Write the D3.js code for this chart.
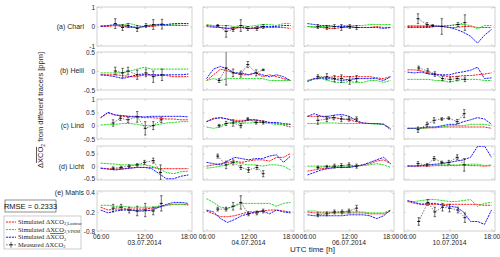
<!DOCTYPE html>
<html>
<head>
<meta charset="utf-8">
<script src="https://cdn.jsdelivr.net/npm/d3@7"></script>
<style>
body{margin:0;background:#fff;}
svg{display:block;font-family:"Liberation Sans",Arial,sans-serif;}
</style>
</head>
<body>
<div id="chart"></div>
<script>

// --- data ---
var rowNames = ["(a) Charl", "(b) Heili", "(c) Lind", "(d) Licht", "(e) Mahls"];
var dates = ["03.07.2014", "04.07.2014", "06.07.2014", "10.07.2014"];
var simHours = [6, 7, 8, 9, 10, 11, 12, 13, 14, 15, 16, 17, 18];
var xTicks = [6, 12, 18];
var xTickLabels = ["06:00", "12:00", "18:00"];
var yDomains = [[-1, 1], [-0.5, 0.5], [-0.5, 1], [-0.55, 0.8], [0, 0.42]];
var yTicks = [[-1, 0, 1], [-0.5, 0, 0.5], [-0.5, 0, 0.5, 1], [-0.5, 0, 0.5], [0, 0.2, 0.4]];
var yTickLabels = [["-1", "0", "1"], ["-0.5", "0", "0.5"], ["-0.5", "0", "0.5", "1"], ["-0.5", "0", "0.5"], ["-0.8", "0.2", "0.4"]];
var rowLabelValue = [0, 0, 0, 0, 0.4];
var rmseText = "RMSE = 0.2333";

// simulated Lasttrac (red), [row][column], one value per simHours
var simLasttrac = [
	[[0,0,0.05,0,-0.05,-0.05,0,0,0.05,0.05,0.05,0.05,0.05],
	 [0,-0.05,-0.05,-0.1,-0.1,-0.05,-0.1,-0.1,-0.05,-0.05,-0.05,-0.05,-0.1],
	 [0,-0.05,-0.05,-0.1,-0.1,-0.05,-0.05,-0.05,-0.05,-0.05,0,-0.05,-0.05],
	 [0,0,0,0,0,0,-0.05,-0.05,0,0,-0.05,-0.05,-0.05]],
	[[-0.1,-0.1,-0.1,-0.12,-0.15,-0.15,-0.1,-0.1,-0.12,-0.12,-0.15,-0.15,-0.15],
	 [-0.25,-0.1,0.05,0,-0.05,-0.1,-0.1,-0.05,-0.15,-0.1,-0.15,-0.2,-0.25],
	 [-0.25,-0.2,-0.18,-0.17,-0.15,-0.15,-0.15,-0.15,-0.15,-0.15,-0.18,-0.2,-0.15],
	 [0.03,0.03,0,-0.05,-0.08,-0.12,-0.15,-0.15,-0.12,-0.12,-0.1,-0.08,-0.05]],
	[[0.3,0.48,0.4,0.35,0.33,0.33,0.3,0.3,0.28,0.25,0.25,0.22,0.22],
	 [0.15,0.28,0.3,0.25,0.2,0.2,0.2,0.22,0.18,0.12,0.08,0.02,-0.05],
	 [0.35,0.35,0.35,0.3,0.3,0.25,0.22,0.15,0.1,0.08,0.08,0.05,-0.1],
	 [-0.1,-0.1,-0.1,-0.08,-0.08,-0.05,-0.05,-0.05,-0.05,-0.05,-0.05,-0.05,-0.1]],
	[[-0.08,-0.1,-0.12,-0.1,-0.08,-0.05,-0.05,-0.05,-0.1,-0.1,-0.1,-0.1,-0.1],
	 [0,0.05,0.1,0.15,0.2,0.15,0.2,0.25,0.25,0.2,0.35,0.35,0.5],
	 [-0.2,-0.15,-0.1,-0.08,-0.05,-0.05,-0.05,0,0.05,0.1,0.2,0.25,0.1],
	 [0,0,0,0,0.02,0.02,0.02,0.02,0.05,0.02,0.02,0,0.02]],
	[[0.25,0.22,0.23,0.23,0.23,0.23,0.23,0.24,0.25,0.27,0.28,0.28,0.28],
	 [0.21,0.18,0.15,0.15,0.16,0.18,0.2,0.2,0.21,0.22,0.22,0.21,0.2],
	 [0.2,0.19,0.19,0.19,0.19,0.19,0.19,0.19,0.19,0.18,0.18,0.18,0.21],
	 [0.31,0.29,0.28,0.28,0.28,0.28,0.28,0.28,0.28,0.28,0.28,0.27,0.27]]
];

// simulated VPRM (green)
var simVprm = [
	[[0.05,0.05,0.05,0.1,0.15,0.05,0,0.05,0.1,0.1,0.1,0.15,0.15],
	 [0.1,0.05,0.05,0.05,0,0.05,0,0.05,0.1,0.1,0.05,0.15,0.15],
	 [0,0,0,0,0,0.05,0.05,0.05,0.05,0.1,0.1,0.1,0.1],
	 [0.05,0.05,0.05,0.05,0.05,0.05,0.05,0.1,0.1,0.05,-0.12,0.05,0.05]],
	[[-0.05,-0.05,-0.05,-0.05,0,0.05,0.1,0.05,0.05,0.05,0.05,0.05,0.05],
	 [-0.25,-0.2,-0.25,-0.2,-0.2,-0.2,-0.2,-0.2,-0.2,-0.25,-0.25,-0.25,-0.25],
	 [-0.25,-0.22,-0.2,-0.25,-0.3,-0.3,-0.28,-0.3,-0.3,-0.25,-0.25,-0.3,-0.25],
	 [-0.22,-0.22,-0.22,-0.22,-0.25,-0.25,-0.3,-0.25,-0.22,-0.22,-0.22,-0.25,-0.25]],
	[[0.02,0.05,0.05,0.08,0.08,0.05,0,0,0.05,0.1,0.12,0.15,0.15],
	 [-0.05,-0.1,-0.05,0.1,0.12,0.1,0.1,0.12,0.12,0.08,0.05,0.05,0.05],
	 [0.08,0.08,0.1,0.1,0.1,0.08,0.08,0.08,0.08,0.08,0.05,0.05,-0.1],
	 [-0.1,-0.1,-0.1,-0.08,-0.05,-0.05,0,0,0,0.05,0.05,0.05,0]],
	[[0.12,0.1,0.08,0.05,0.05,0.05,0.05,0,-0.1,-0.25,-0.3,-0.22,-0.2],
	 [-0.08,-0.05,0,0.05,0.15,0.1,0.05,0.05,0,0.05,0.05,0,-0.15],
	 [0,0,0,0,0,0,0,0,0.02,0.05,0.1,0.05,-0.05],
	 [0.02,0.02,0.02,0.05,0.05,0.05,0.05,0.05,0.05,0.08,0.08,0.02,0.05]],
	[[0.27,0.27,0.26,0.26,0.25,0.25,0.25,0.25,0.26,0.27,0.28,0.28,0.27],
	 [0.34,0.3,0.25,0.24,0.26,0.29,0.29,0.29,0.29,0.29,0.26,0.29,0.3],
	 [0.21,0.21,0.2,0.2,0.2,0.2,0.2,0.2,0.2,0.19,0.19,0.19,0.22],
	 [0.31,0.31,0.32,0.33,0.33,0.32,0.31,0.31,0.32,0.33,0.26,0.29,0.3]]
];

// simulated total (blue)
var simTotal = [
	[[0,0.05,0.1,0.05,0,-0.05,0,0.05,0.1,0.1,0.15,0.15,0.15],
	 [0.05,0,-0.05,-0.1,-0.05,-0.05,-0.1,-0.05,0,0,0,0.05,0.05],
	 [0.15,0.1,0.05,0.05,0,0,0,-0.05,-0.05,-0.05,-0.05,-0.1,-0.05],
	 [-0.05,-0.05,-0.05,-0.05,0,0,-0.05,-0.15,-0.3,-0.5,-0.85,-0.45,-0.15]],
	[[-0.1,-0.12,-0.15,-0.2,-0.15,-0.1,-0.1,-0.1,-0.1,-0.1,-0.1,-0.1,-0.08],
	 [-0.2,0.05,0.12,0.05,-0.05,-0.05,-0.1,-0.05,-0.1,-0.15,-0.1,-0.15,-0.25],
	 [-0.28,-0.2,-0.18,-0.2,-0.22,-0.25,-0.22,-0.2,-0.2,-0.2,-0.2,-0.25,-0.15],
	 [-0.03,-0.05,-0.03,-0.08,-0.1,-0.1,-0.1,-0.05,-0.02,0.02,0.1,-0.2,-0.18]],
	[[0.3,0.5,0.4,0.38,0.35,0.35,0.33,0.35,0.35,0.35,0.35,0.35,0.33],
	 [0.15,0.25,0.3,0.25,0.15,0.15,0.22,0.22,0.15,0.12,0.12,0.08,0.05],
	 [0.35,0.45,0.35,0.35,0.4,0.42,0.35,0.2,0.1,0.08,0.08,0.05,-0.15],
	 [-0.1,-0.1,-0.08,-0.05,-0.05,0,0.05,0.05,0.15,0.22,0.3,0.25,0.05]],
	[[-0.08,-0.12,-0.15,-0.12,-0.08,-0.05,-0.05,-0.1,-0.3,-0.5,-0.5,-0.4,-0.35],
	 [0.15,0.1,0.05,0.2,0.35,0.3,0.25,0.3,0.3,0.4,0.45,0.15,0.4],
	 [-0.35,-0.25,-0.15,-0.1,-0.05,-0.05,-0.05,0,0.05,0.15,0.25,0.35,0.1],
	 [0,0,0.02,0.05,0.08,0.1,0.15,0.2,0.25,0.35,0.78,0.8,0.35]],
	[[0.22,0.19,0.21,0.22,0.22,0.21,0.21,0.22,0.25,0.28,0.3,0.3,0.29],
	 [0.22,0.2,0.13,0.09,0.12,0.16,0.18,0.2,0.21,0.18,0.22,0.2,0.19],
	 [0.17,0.16,0.16,0.16,0.16,0.16,0.17,0.17,0.17,0.16,0.13,0.16,0.22],
	 [0.32,0.3,0.28,0.29,0.29,0.27,0.26,0.25,0.2,0.1,0.1,0.07,0.22]]
];

// measured: times, values, error half-widths
var measTime = [
	[[8,9,9.75,11,12.2,13.2,14.4],[7.6,8.8,9.8,10.9,11.9,13.2,14.1],[7.5,8.8,9.9,10.9,12.1,13.1],[7.5,8.8,9.6,10.9,13.2,14.2]],
	[[8,9,9.75,11,12.2,13.2,14.4],[7.8,8.8,9.8,10.9,11.9,13.1,14.1],[7.5,8.8,9.9,10.9,12.1,13.1],[7.6,8.9,9.9,11,12.1,13.1,14.2]],
	[[7.7,8.7,9.75,11,12.1,13.2,14.3],[7.8,8.8,9.8,10.9,11.9,13.1,14.1],[7.5,8.8,9.8,10.9,12,13.1],[7.5,8.8,9.8,10.9,11.9,13.1,14.1]],
	[[7.7,8.8,9.9,11,12,13.2,14.2],[7.6,8.8,9.8,10.9,12,13.2,14.1],[7.5,8.8,9.9,10.9,12,13.1],[7.5,8.8,9.8,10.9,11.9,13.1,14.1]],
	[[7.7,8.8,9.9,11,12.1,13.2,14.3],[7.6,8.8,9.8,10.9,12,13.2,14.1],[7.5,8.8,9.9,11,12,13.1],[7.6,8.9,9.9,11,12,13.2,14.2]]
];
var measValue = [
	[[0.15,-0.05,0.05,-0.1,0.05,0.1,0.12],[0.05,-0.25,-0.15,0.05,-0.1,-0.1,0],[0,-0.05,0,-0.05,0,-0.05],[0.4,0.1,0.05,0,0.1,0.2]],
	[[0,-0.05,0,-0.1,-0.05,-0.15,-0.1],[-0.25,0.08,-0.05,-0.08,0.17,-0.05,0.03],[-0.15,-0.15,-0.2,-0.2,-0.25,-0.2],[0.08,0,-0.08,-0.2,-0.22,-0.2,-0.22]],
	[[0.1,0.28,0.22,0.33,-0.1,0,0.22],[0,0.08,0.1,0,0.25,0.12,0.12],[0.2,0.25,0.3,0.25,0.25,0.25],[-0.15,0.05,0.2,0.25,0.28,0.15,0.45]],
	[[-0.08,-0.05,0,0.05,0.15,0.22,-0.25],[0.4,0.05,0.15,-0.05,-0.15,-0.05,-0.3],[-0.05,-0.02,0,0.02,0.05,0],[0.1,0.05,0.3,0.15,0.15,0.35,0.05]],
	[[0.24,0.25,0.22,0.21,0.22,0.21,0.29],[0.23,0.23,0.26,0.3,0.18,0.19,0.21],[0.17,0.18,0.2,0.2,0.21,0.24],[0.1,0.3,0.2,0.25,0.24,0.22,0.14]]
];
var measErr = [
	[[0.25,0.15,0.1,0.15,0.1,0.25,0.25],[0.05,0.3,0.1,0.3,0.1,0.1,0.1],[0.1,0.1,0.1,0.15,0.1,0.1],[0.25,0.1,0.05,0.4,0.1,0.4]],
	[[0.1,0.12,0.1,0.12,0.1,0.15,0.15],[0.05,0.45,0.1,0.08,0.08,0.08,0.02],[0.05,0.08,0.08,0.1,0.1,0.08],[0.05,0.06,0.06,0.06,0.06,0.06,0.06]],
	[[0.12,0.08,0.1,0.2,0.25,0.15,0.1],[0.05,0.08,0.12,0.08,0.05,0.06,0.06],[0.15,0.1,0.08,0.1,0.08,0.08],[0.1,0.08,0.1,0.05,0.05,0.08,0.15]],
	[[0.05,0.05,0.05,0.05,0.08,0.1,0.3],[0.08,0.15,0.1,0.08,0.1,0.08,0.12],[0.05,0.05,0.08,0.08,0.08,0.08],[0.08,0.05,0.08,0.05,0.08,0.1,0.25]],
	[[0.04,0.03,0.03,0.05,0.07,0.04,0.08],[0.02,0.02,0.04,0.07,0.02,0.02,0.02],[0.02,0.02,0.02,0.02,0.02,0.03],[0.04,0.03,0.05,0.04,0.04,0.03,0.05]]
];

// --- layout ---
var colLeft = [97, 203, 304, 404];
var colRight = [192, 294, 394, 495];
var rowTop = [7, 52, 99, 146, 191];
var rowBottom = [46, 90, 139, 180, 231];
var xDomain = [5.5, 18.5];

var simColors = {red: "#ff1a1a", green: "#1fdc1f", blue: "#1a1aff"};
var tickColor = "#262626";

var svg = d3.select("#chart")
	.append("svg")
	.attr("width", 500)
	.attr("height", 257);

var defs = svg.append("defs");

function drawPanel(r, c){

	var x = d3.scaleLinear().domain(xDomain).range([colLeft[c], colRight[c]]);
	var y = d3.scaleLinear().domain(yDomains[r]).range([rowBottom[r], rowTop[r]]);

	var g = svg.append("g");

	var clipId = "clip" + r + "_" + c;
	defs.append("clipPath").attr("id", clipId)
		.append("rect")
			.attr("x", colLeft[c])
			.attr("y", rowTop[r])
			.attr("width", colRight[c] - colLeft[c])
			.attr("height", rowBottom[r] - rowTop[r]);

	// axes with small inward ticks, MATLAB style
	var bottom = d3.axisBottom(x).tickValues(xTicks).tickSize(-2).tickPadding(3)
		.tickFormat(function(d, i){ return r == 4 ? xTickLabels[i] : ""; });
	var top = d3.axisTop(x).tickValues(xTicks).tickSize(-2).tickFormat("");
	var left = d3.axisLeft(y).tickValues(yTicks[r]).tickSize(-2).tickPadding(2)
		.tickFormat(function(d, i){ return c == 0 ? yTickLabels[r][i] : ""; });
	var right = d3.axisRight(y).tickValues(yTicks[r]).tickSize(-2).tickFormat("");

	[[bottom, "translate(0," + rowBottom[r] + ")"],
	 [top, "translate(0," + rowTop[r] + ")"],
	 [left, "translate(" + colLeft[c] + ",0)"],
	 [right, "translate(" + colRight[c] + ",0)"]].forEach(function(a){
		var ax = g.append("g").attr("transform", a[1]).call(a[0]);
		ax.select(".domain").remove();
		ax.selectAll(".tick line").attr("stroke", "#bdbdbd").attr("stroke-width", 0.6);
		ax.selectAll(".tick text").attr("fill", tickColor).attr("font-size", 6.5)
			.attr("font-family", "Liberation Sans, Arial, sans-serif");
	});

	g.append("rect")
		.attr("x", colLeft[c])
		.attr("y", rowTop[r])
		.attr("width", colRight[c] - colLeft[c])
		.attr("height", rowBottom[r] - rowTop[r])
		.attr("fill", "none")
		.attr("stroke", "#c6c6c6")
		.attr("stroke-width", 0.8);

	var plot = g.append("g").attr("clip-path", "url(#" + clipId + ")");

	var line = d3.line()
		.x(function(d){ return x(d[0]); })
		.y(function(d){ return y(d[1]); });

	[[simLasttrac, simColors.red], [simVprm, simColors.green], [simTotal, simColors.blue]].forEach(function(s){
		plot.append("path")
			.datum(d3.zip(simHours, s[0][r][c]))
			.attr("d", line)
			.attr("fill", "none")
			.attr("stroke", s[1])
			.attr("stroke-width", 1)
			.attr("stroke-dasharray", "2.2,0.8");
	});

	// measured values with error bars
	var meas = d3.zip(measTime[r][c], measValue[r][c], measErr[r][c]);

	plot.append("path")
		.datum(meas)
		.attr("d", line)
		.attr("fill", "none")
		.attr("stroke", "#333")
		.attr("stroke-width", 0.6)
		.attr("stroke-dasharray", "1.6,1.2");

	var pts = plot.selectAll(".meas")
		.data(meas)
		.enter()
		.append("g")
			.attr("class", "meas");

	pts.append("line")
		.attr("x1", function(d){ return x(d[0]); })
		.attr("x2", function(d){ return x(d[0]); })
		.attr("y1", function(d){ return y(d[1] - d[2]); })
		.attr("y2", function(d){ return y(d[1] + d[2]); })
		.attr("stroke", "#111")
		.attr("stroke-width", 0.6);

	[-1, 1].forEach(function(sg){
		pts.append("line")
			.attr("x1", function(d){ return x(d[0]) - 1.2; })
			.attr("x2", function(d){ return x(d[0]) + 1.2; })
			.attr("y1", function(d){ return y(d[1] + sg * d[2]); })
			.attr("y2", function(d){ return y(d[1] + sg * d[2]); })
			.attr("stroke", "#111")
			.attr("stroke-width", 0.6);
	});

	pts.append("line")
		.attr("x1", function(d){ return x(d[0]) - 1.5; })
		.attr("x2", function(d){ return x(d[0]) + 1.5; })
		.attr("y1", function(d){ return y(d[1]); })
		.attr("y2", function(d){ return y(d[1]); })
		.attr("stroke", "#000")
		.attr("stroke-width", 0.9);

	// row label and date
	if(c == 0){
		svg.append("text")
			.attr("x", 84)
			.attr("y", y(rowLabelValue[r]))
			.attr("dy", "0.35em")
			.attr("text-anchor", "end")
			.attr("font-size", 7)
			.attr("fill", tickColor)
			.text(rowNames[r]);
	}
	if(r == 4){
		svg.append("text")
			.attr("x", x(12))
			.attr("y", 245)
			.attr("text-anchor", "middle")
			.attr("font-size", 6.8)
			.attr("fill", tickColor)
			.text(dates[c]);
	}
}

rowNames.forEach(function(n, r){
	dates.forEach(function(d, c){
		drawPanel(r, c);
	});
});

// x axis title
svg.append("text")
	.attr("x", 290)
	.attr("y", 252)
	.attr("font-size", 8)
	.attr("fill", tickColor)
	.text("UTC time [h]");

// y axis title
var ylab = svg.append("text")
	.attr("transform", "translate(43,110) rotate(-90)")
	.attr("text-anchor", "middle")
	.attr("font-size", 7.5)
	.attr("fill", tickColor);
ylab.append("tspan").text("Δ");
ylab.append("tspan").attr("text-decoration", "overline").text("XCO");
ylab.append("tspan").attr("font-size", 5).attr("dy", 1.5).text("2");
ylab.append("tspan").attr("dy", -1.5).text(" from different tracers [ppm]");

// RMSE box
svg.append("rect")
	.attr("x", 5).attr("y", 200).attr("width", 51).attr("height", 12)
	.attr("fill", "#fff").attr("stroke", "#444").attr("stroke-width", 0.6);
svg.append("text")
	.attr("x", 30.5).attr("y", 206).attr("dy", "0.35em")
	.attr("text-anchor", "middle")
	.attr("font-size", 7.5)
	.attr("fill", "#111")
	.text(rmseText);

// legend
var legendItems = [
	{color: simColors.red, label: "Simulated ΔXCO", sub: "2,Lasttrac", over: false, meas: false},
	{color: simColors.green, label: "Simulated ΔXCO", sub: "2,VPRM", over: false, meas: false},
	{color: simColors.blue, label: "Simulated ΔXCO", sub: "2", over: true, meas: false},
	{color: "#111", label: "Measured ΔXCO", sub: "2", over: false, meas: true}
];

var legend = svg.append("g");
legend.append("rect")
	.attr("x", 4).attr("y", 216).attr("width", 77).attr("height", 33)
	.attr("fill", "#fff").attr("stroke", "#aaa").attr("stroke-width", 0.6);

legendItems.forEach(function(it, i){
	var ly = 222 + i * 7.6;
	legend.append("line")
		.attr("x1", 6).attr("x2", 16).attr("y1", ly).attr("y2", ly)
		.attr("stroke", it.color)
		.attr("stroke-width", it.meas ? 0.6 : 1)
		.attr("stroke-dasharray", it.meas ? "1.6,1.2" : "2.2,0.8");
	if(it.meas){
		legend.append("line").attr("x1", 11).attr("x2", 11).attr("y1", ly - 3).attr("y2", ly + 3)
			.attr("stroke", "#111").attr("stroke-width", 0.6);
		legend.append("line").attr("x1", 9.5).attr("x2", 12.5).attr("y1", ly).attr("y2", ly)
			.attr("stroke", "#000").attr("stroke-width", 0.9);
	}
	var t = legend.append("text")
		.attr("x", 18).attr("y", ly).attr("dy", "0.3em")
		.attr("font-family", "Liberation Serif, Times New Roman, serif")
		.attr("font-size", 6.5)
		.attr("fill", "#222");
	var parts = it.label.split("Δ");
	t.append("tspan").text(parts[0] + "Δ");
	t.append("tspan").attr("text-decoration", it.over ? "overline" : "none").text(parts[1]);
	t.append("tspan").attr("font-size", 4.5).attr("dy", 1.5).text(it.sub);
});

</script>
</body>
</html>
